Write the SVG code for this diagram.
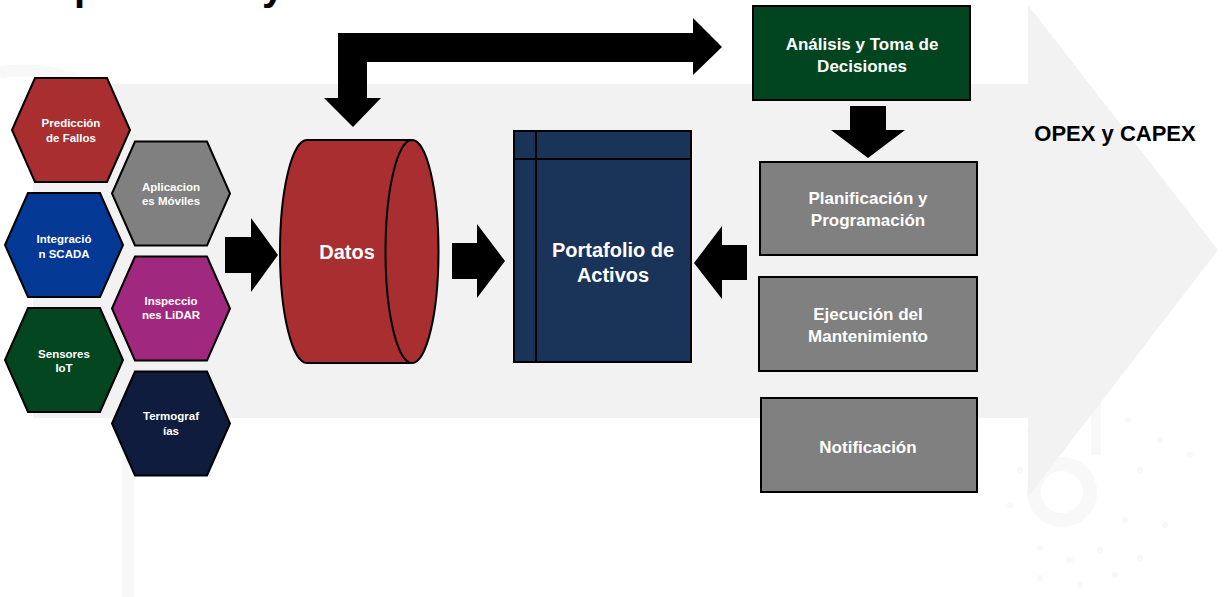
<svg xmlns="http://www.w3.org/2000/svg" width="1228" height="597" viewBox="0 0 1228 597">
  <style>
    .hex { stroke: #000; stroke-width: 2; stroke-linejoin: miter; }
    .box { stroke: #000; stroke-width: 2; }
    .ht { font-family: "Liberation Sans", Arial, sans-serif; font-weight: bold; font-size: 11.5px; fill: #fff; text-anchor: middle; }
    .bt { font-family: "Liberation Sans", Arial, sans-serif; font-weight: bold; font-size: 17px; fill: #fff; text-anchor: middle; }
    .big { font-family: "Liberation Sans", Arial, sans-serif; font-weight: bold; font-size: 20px; fill: #fff; text-anchor: middle; }
    .conn { fill: #000; }
    .wm { fill: none; stroke: #f8f8f8; }
  </style>
  <defs>
    <polygon id="hexshape" points="-59,0 -36,-52 36,-52 59,0 36,52 -36,52"/>
  </defs>
  <rect width="1228" height="597" fill="#ffffff"/>
  <!-- faint watermark -->
  <g id="watermark">
    <path class="wm" stroke-width="12" d="M0,72 Q110,60 128,150 L128,597"/>
    <circle class="wm" cx="1062" cy="492" r="28" stroke-width="14"/>
    <line class="wm" x1="1096" y1="385" x2="1096" y2="455" stroke-width="10"/>
    <g fill="#f8f8f8">
      <circle cx="1008" cy="410" r="3"/><circle cx="1030" cy="430" r="3"/><circle cx="1128" cy="420" r="3"/>
      <circle cx="1160" cy="440" r="3"/><circle cx="1190" cy="455" r="3"/><circle cx="1140" cy="470" r="3"/>
      <circle cx="1020" cy="470" r="3"/><circle cx="1010" cy="505" r="3"/><circle cx="1125" cy="520" r="3"/>
      <circle cx="1165" cy="525" r="3"/><circle cx="1040" cy="548" r="3"/><circle cx="1070" cy="560" r="3"/>
      <circle cx="1100" cy="550" r="3"/><circle cx="1140" cy="558" r="3"/><circle cx="1040" cy="578" r="3"/>
      <circle cx="1080" cy="585" r="3"/><circle cx="1115" cy="575" r="3"/>
    </g>
  </g>
  <!-- background arrow -->
  <polygon id="bg-arrow" points="33,84 1028,84 1028,5 1218,250 1028,497 1028,418 33,418" fill="#f2f2f2"/>
  <!-- cut-off title (only descenders visible) -->
  <g id="title" font-family="'Liberation Sans', Arial, sans-serif" font-weight="bold" font-size="40" fill="#000">
    <text x="74" y="0">p</text>
    <text x="262" y="0">y</text>
  </g>

  <g id="connectors">
    <polygon class="conn" points="338,98 324,98 353,127 381,98 367,98 367,62 693,62 693,75 722,47 693,18 693,33 338,33"/>
    <polygon class="conn" points="225,237 251,237 251,218 278,255 251,292 251,273 225,273"/>
    <polygon class="conn" points="452,243 477,243 477,224 505,261 477,298 477,279 452,279"/>
    <polygon class="conn" points="747,245 722,245 722,226 694,263 722,299 722,280 747,280"/>
    <polygon class="conn" points="850,106 886,106 886,130 905,130 868,158 831,130 850,130"/>
  </g>

  <g id="hex-prediccion">
    <use href="#hexshape" x="71" y="130" class="hex" fill="#a82e30"/>
    <text class="ht" x="71" y="127">Predicción</text>
    <text class="ht" x="71" y="142">de Fallos</text>
  </g>
  <g id="hex-aplicaciones">
    <use href="#hexshape" x="171" y="193.5" class="hex" fill="#808080"/>
    <text class="ht" x="171" y="191">Aplicacion</text>
    <text class="ht" x="171" y="205">es Móviles</text>
  </g>
  <g id="hex-scada">
    <use href="#hexshape" x="64" y="245" class="hex" fill="#033894"/>
    <text class="ht" x="64" y="243">Integració</text>
    <text class="ht" x="64" y="258">n SCADA</text>
  </g>
  <g id="hex-lidar">
    <use href="#hexshape" x="171" y="308.5" class="hex" fill="#a0297f"/>
    <text class="ht" x="171" y="305">Inspeccio</text>
    <text class="ht" x="171" y="319">nes LiDAR</text>
  </g>
  <g id="hex-iot">
    <use href="#hexshape" x="64" y="360" class="hex" fill="#03461f"/>
    <text class="ht" x="64" y="358">Sensores</text>
    <text class="ht" x="64" y="372">IoT</text>
  </g>
  <g id="hex-termografias">
    <use href="#hexshape" x="171" y="423.5" class="hex" fill="#101c3e"/>
    <text class="ht" x="171" y="420">Termograf</text>
    <text class="ht" x="171" y="435">ías</text>
  </g>

  <g id="datos">
    <path d="M307,140 L412,140 A26.5,111.5 0 0 1 412,363 L307,363 A27,111.5 0 0 1 307,140 Z" fill="#a82e30" stroke="#000" stroke-width="2"/>
    <path d="M412,140 A26.5,111.5 0 0 0 412,363" fill="none" stroke="#000" stroke-width="2"/>
    <text class="big" x="347" y="259">Datos</text>
  </g>

  <g id="portafolio">
    <rect x="514" y="131" width="177" height="231" fill="#1a3359" stroke="#000" stroke-width="2"/>
    <line x1="536" y1="131" x2="536" y2="362" stroke="#000" stroke-width="2"/>
    <line x1="514" y1="159" x2="691" y2="159" stroke="#000" stroke-width="2"/>
    <text class="big" x="613" y="257">Portafolio de</text>
    <text class="big" x="613" y="282">Activos</text>
  </g>

  <g id="analisis">
    <rect class="box" x="753" y="6" width="217" height="94" fill="#014520"/>
    <text class="bt" x="862" y="50">Análisis y Toma de</text>
    <text class="bt" x="862" y="72">Decisiones</text>
  </g>
  <g id="planificacion">
    <rect class="box" x="760" y="162" width="217" height="93" fill="#808080"/>
    <text class="bt" x="868" y="204">Planificación y</text>
    <text class="bt" x="868" y="226">Programación</text>
  </g>
  <g id="ejecucion">
    <rect class="box" x="759" y="277" width="218" height="94" fill="#808080"/>
    <text class="bt" x="868" y="320">Ejecución del</text>
    <text class="bt" x="868" y="342">Mantenimiento</text>
  </g>
  <g id="notificacion">
    <rect class="box" x="761" y="398" width="216" height="94" fill="#808080"/>
    <text class="bt" x="868" y="453">Notificación</text>
  </g>

  <g id="opex">
    <text x="1115" y="141" font-family="'Liberation Sans', Arial, sans-serif" font-weight="bold" font-size="22" fill="#000" text-anchor="middle">OPEX y CAPEX</text>
  </g>
</svg>
